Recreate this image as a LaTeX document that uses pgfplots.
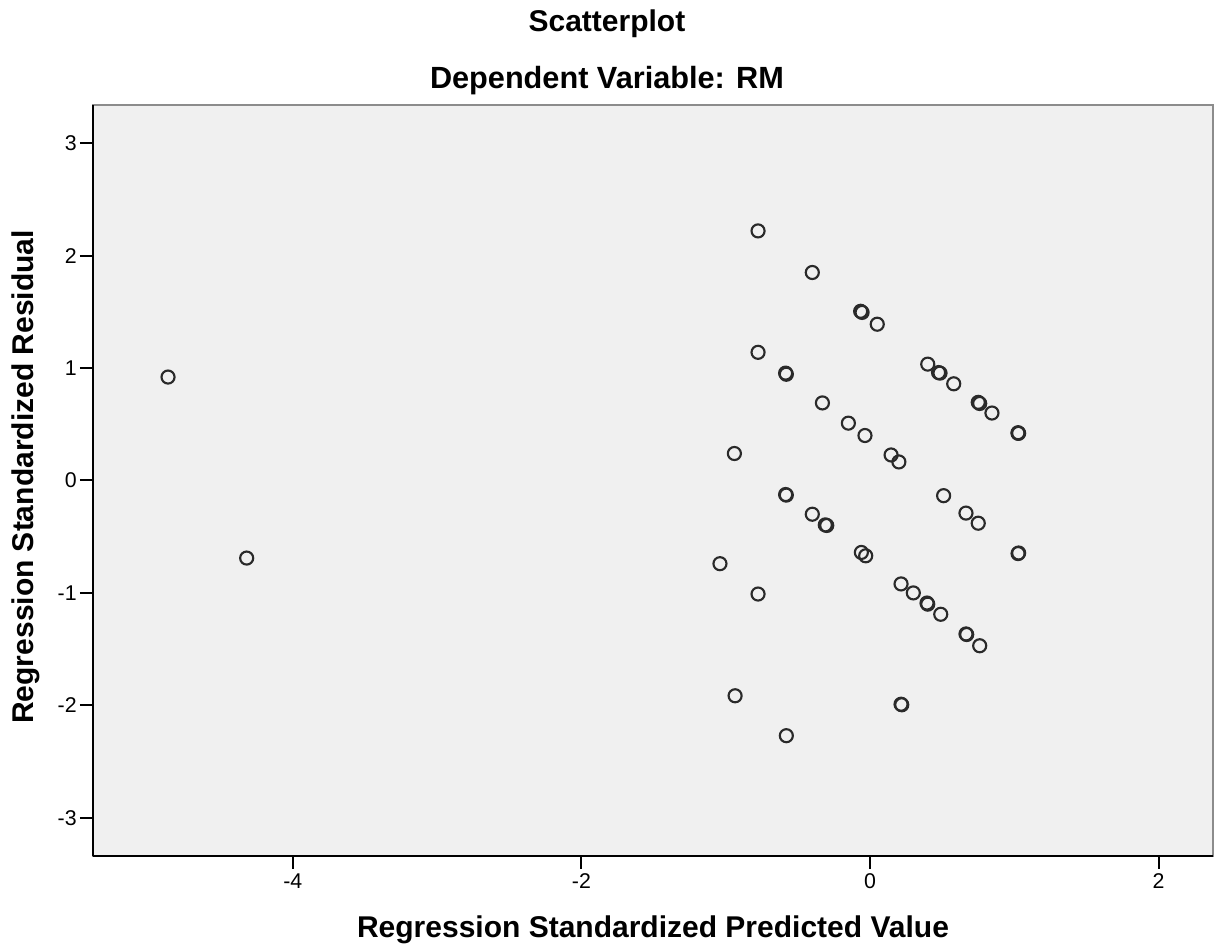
\documentclass[border=0pt]{standalone}
\usepackage{pgfplots}
\pgfplotsset{compat=1.18}
\usepackage{fontspec}
\setmainfont{Liberation Sans}
\definecolor{bg}{HTML}{F0F0F0}
\definecolor{mk}{HTML}{2A2A2A}
\begin{document}
\begin{tikzpicture}
\begin{axis}[
  name=ax,
  scale only axis,
  width=840pt, height=563.25pt,
  xmin=-5.385, xmax=2.377,
  ymin=-3.34, ymax=3.34,
  axis x line=bottom, axis y line=left,
  axis line style={-, black, line width=1.5pt},
  axis background/.style={fill=bg, draw=black!45, line width=1pt},
  xtick={-4,-2,0,2}, xticklabels={-4,-2,0,2},
  ytick={-3,-2,-1,0,1,2,3}, yticklabels={-3,-2,-1,0,1,2,3},
  tick align=outside,
  major tick length=9.75pt,
  tick style={black, line width=1.5pt},
  ticklabel style={font=\fontsize{16pt}{18pt}\selectfont},
  xticklabel style={yshift=0pt},
  yticklabel style={xshift=1pt},
  clip=false,
]
\addplot[only marks, mark=o, mark size=4.9pt, mark options={draw=mk, line width=1.6pt}] coordinates {
(-4.865,0.92) (-4.32,-0.69)
(-0.776,2.22) (-0.40,1.85) (-0.065,1.505) (-0.055,1.495) (0.05,1.39)
(-0.776,1.14) (-0.585,0.955) (-0.58,0.945) (-0.33,0.69) (-0.15,0.51) (-0.035,0.40)
(0.40,1.035) (0.475,0.96) (0.485,0.955) (0.58,0.86) (0.75,0.695) (0.76,0.685)
(0.845,0.60) (1.026,0.425) (1.026,0.42) (1.03,0.42)
(0.146,0.227) (0.20,0.165) (-0.94,0.24)
(-0.585,-0.125) (-0.58,-0.13) (-0.40,-0.30) (-0.31,-0.395) (-0.30,-0.40)
(-0.06,-0.64) (-0.03,-0.67)
(0.51,-0.135) (0.665,-0.29) (0.75,-0.38) (1.026,-0.65) (1.03,-0.645)
(-1.04,-0.74) (-0.776,-1.01) (0.215,-0.92) (0.30,-1.00) (0.395,-1.09) (0.40,-1.10)
(0.49,-1.19) (0.665,-1.365) (0.67,-1.37) (0.76,-1.47)
(-0.935,-1.915) (-0.58,-2.27) (0.215,-1.99) (0.22,-1.995)
};
\node[anchor=base, font=\fontsize{22.5pt}{26pt}\selectfont\bfseries] at (rel axis cs:0.4589,1.0972) {Scatterplot};
\node[anchor=base, font=\fontsize{23pt}{26pt}\selectfont\bfseries] at (rel axis cs:0.4589,1.0226) {Dependent Variable: RM};
\node[anchor=base, font=\fontsize{22.5pt}{26pt}\selectfont\bfseries] at (rel axis cs:0.5,-0.1079) {Regression Standardized Predicted Value};
\node[anchor=base, rotate=90, font=\fontsize{22.5pt}{26pt}\selectfont\bfseries] at (rel axis cs:-0.0527,0.5047) {Regression Standardized Residual};
\end{axis}
\pgfresetboundingbox
\path ([xshift=-69.75pt,yshift=-71.25pt]ax.south west) rectangle ([xshift=0.75pt,yshift=78.75pt]ax.north east);
\end{tikzpicture}
\end{document}
